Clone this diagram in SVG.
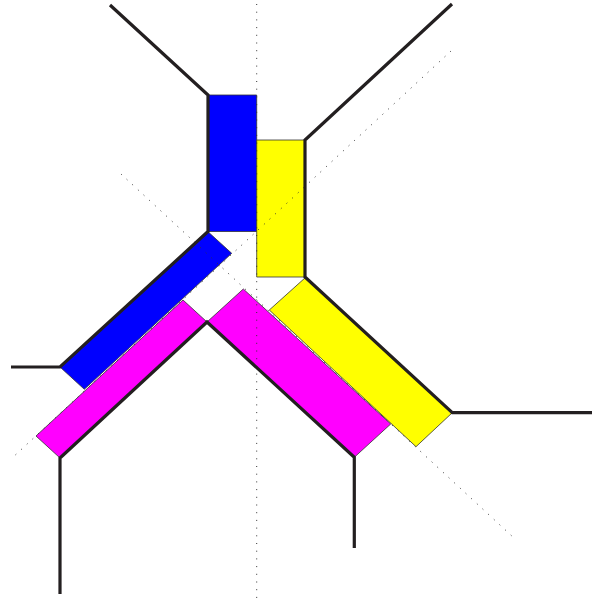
<svg xmlns="http://www.w3.org/2000/svg" width="592" height="599" viewBox="0 0 592 599">
<style>
.r{stroke:#333;stroke-width:0.8;stroke-linejoin:miter}
.b{fill:#0000ff}.y{fill:#ffff00}.m{fill:#ff00ff}
.d{fill:none;stroke:#333;stroke-width:1;stroke-dasharray:1 6.7}
.k{fill:none;stroke:#231f20;stroke-width:3.2;stroke-linejoin:miter}
</style>
<rect width="592" height="599" fill="#fff"/>
<g id="blue-vertical"><polygon class="r b" points="208,95 256.7,95 256.7,231.5 208,231.5"/></g>
<g id="yellow-vertical"><polygon class="r y" points="256.7,140 305,140 305,277 256.7,277"/></g>
<g id="yellow-diagonal"><polygon class="r y" points="269.3,310 305.7,277.3 452.3,412.7 416,446.7"/></g>
<g id="magenta-right"><polygon class="r m" points="207,322 243.3,289 390.7,424 354.3,457.3"/></g>
<g id="blue-diagonal"><polygon class="r b" points="208.3,232 231.7,253.3 84.3,389.3 60,367"/></g>
<g id="magenta-left"><polygon class="r m" points="36,436 183,300 207,322 60,458"/></g>
<g id="axes">
<line class="d" x1="256.7" y1="4" x2="256.7" y2="599"/>
<line class="d" x1="121" y1="174" x2="514" y2="538"/>
<line class="d" x1="451" y1="51" x2="11" y2="459"/>
</g>
<g id="connectors">
<polyline class="k" points="110,5 208,95 208,231.5 60,367 11,367"/>
<polyline class="k" points="452,4 305,140 305,277 452.3,412.7 592,412.7"/>
<polyline class="k" points="60,594 60,458 207,322 354.3,457.3 354.3,548"/>
</g>
</svg>
